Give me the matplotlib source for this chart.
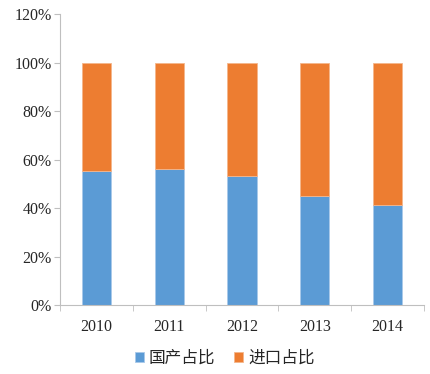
import matplotlib
matplotlib.use("Agg")
import matplotlib.pyplot as plt
from matplotlib.ticker import PercentFormatter

years = ["2010", "2011", "2012", "2013", "2014"]
domestic = [55.2, 56.0, 53.2, 45.1, 41.1]
imported = [100 - v for v in domestic]
y_ticks = [0, 20, 40, 60, 80, 100, 120]

BLUE = "#5b9bd5"
ORANGE = "#ed7d31"
SPINE = "#bfbfbf"
INK = "#262626"

fig = plt.figure(figsize=(4.31, 3.74), dpi=100, facecolor="white")
ax = fig.add_axes([0.139, 0.1845, 0.845, 0.777])

x = range(len(years))
ax.bar(x, domestic, width=0.4, color=BLUE, label="国产占比",
       edgecolor="#a9c9ea", linewidth=0.6)
ax.bar(x, imported, width=0.4, bottom=domestic, color=ORANGE, label="进口占比",
       edgecolor="#f4b68c", linewidth=0.6)

ax.set_xlim(-0.5, len(years) - 0.5)
ax.set_ylim(0, 120)
ax.set_yticks(y_ticks)
ax.yaxis.set_major_formatter(PercentFormatter(decimals=0))
ax.set_xticks(list(x))
ax.set_xticklabels(years)
ax.set_xticks([i - 0.5 for i in range(len(years) + 1)], minor=True)
ax.tick_params(axis="x", which="major", length=0, pad=10)
ax.tick_params(axis="x", which="minor", length=4, color=SPINE)
ax.tick_params(axis="y", length=4, color=SPINE, pad=2)
for label in ax.get_xticklabels() + ax.get_yticklabels():
    label.set_fontfamily("Liberation Serif")
    label.set_fontsize(11.5)
    label.set_color(INK)

ax.spines[["top", "right"]].set_visible(False)
ax.spines[["left", "bottom"]].set_color(SPINE)

fig.legend(loc="lower center", bbox_to_anchor=(0.521, -0.02), ncol=2, frameon=False,
           prop={"family": ["Noto Sans CJK SC", "DejaVu Sans"], "size": 12},
           handlelength=0.55, handleheight=0.55, handletextpad=0.3, columnspacing=1.1,
           labelcolor=INK)

fig.savefig("out.png", dpi=100, facecolor="white")
